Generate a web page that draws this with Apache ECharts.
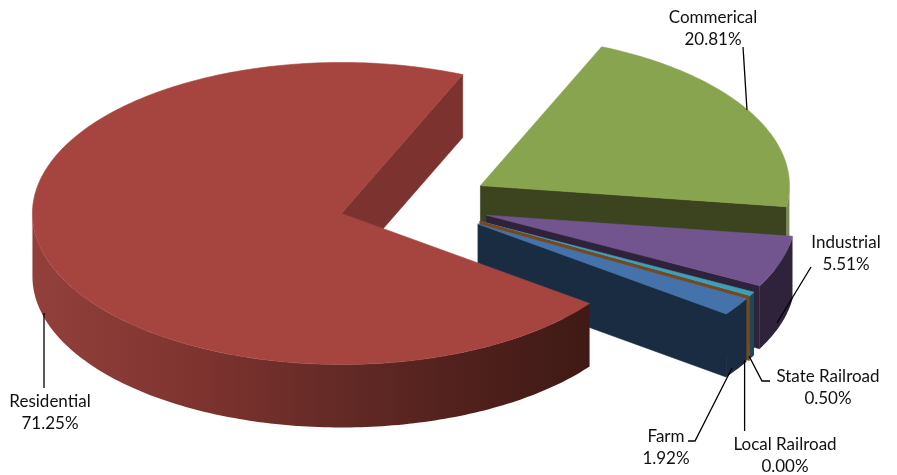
<!DOCTYPE html>
<html><head><meta charset="utf-8">
<style>html,body{margin:0;padding:0;background:#fff}#c{width:897px;height:475px}</style>
<script src="https://cdn.jsdelivr.net/npm/echarts@6/dist/echarts.min.js"></script>
</head><body><div id="c"></div>
<script>
// Data, clockwise from the first slice; Residential last so that it paints in front.
const categories = ['Commercial','Industrial','State Railroad','Local Railroad','Farm','Residential'];
const labelNames = ['Commerical','Industrial','State Railroad','Local Railroad','Farm','Residential'];
const values = [20.81, 5.51, 0.50, 0.00, 1.92, 71.25];

// Look
const topColors  = ['#89a44f','#72558f','#3e9fb8','#7a481e','#4473ac','#a64440'];
const faceColors = ['#3b431f','#2e233b','#1b4a55','#7a481e','#1a2c42','#7c322f'];
const wallFills = ['#7d8a5c','#2e233b','#1b4a55','#7a481e','#1a2c42',
  {type:'linear',x:0,y:0,x2:1,y2:0,colorStops:[
    {offset:0,color:'#93403b'},{offset:.3,color:'#7e332f'},{offset:.55,color:'#642a26'},
    {offset:.78,color:'#50201c'},{offset:1,color:'#3f1a15'}]}];

// Pie geometry
const pie = {cx:414.5, cy:203.8, rx:309, ry:151, depth:63, explode:.245, startAngle:23.1};
// Label anchors and leader lines
const labelPos = [[713,18],[846,243],[828,377],[785,445],[666,437],[50,402]];
const labelGap = 22;
const leaders = [
  [[743,47],[747,110]],
  [[811,267],[777,323]],
  [[749,356],[762,381],[770,381]],
  [[744.6,360],[744.6,431]],
  [[732,368],[695,441],[688,441]],
  [[44,313],[44,388]]
];
const labelFont = 'Lato, "Open Sans", sans-serif';

const total = values.reduce((a,b)=>a+b,0);
const rad = d => d*Math.PI/180;
function slice(i){
  let a = pie.startAngle;
  for(let k=0;k<i;k++) a += values[k]/total*360;
  return [a, a + values[i]/total*360];
}
function renderSlice(params, api){
  const i = params.dataIndex;
  if(params.dataIndexInside == null) return;
  const [a0,a1] = slice(i);
  const mid = (a0+a1)/2;
  const tx = pie.cx + pie.explode*pie.rx*Math.sin(rad(mid));
  const ty = pie.cy - pie.explode*pie.ry*Math.cos(rad(mid));
  const P = (a,dz=0)=>[tx+pie.rx*Math.sin(rad(a)), ty-pie.ry*Math.cos(rad(a))+dz];
  const arc = (s,e,dz=0)=>{
    const out=[]; const n=Math.max(1,Math.ceil(Math.abs(e-s)));
    for(let k=0;k<=n;k++) out.push(P(s+(e-s)*k/n,dz));
    return out;
  };
  const thin = api.value(0) === 0;
  const stroke = c => thin ? {stroke:c, lineWidth:1.8} : {stroke:c, lineWidth:.6};
  const kids = [];
  // cut face at the clockwise end
  const endNorm = ((a1%360)+360)%360;
  if(endNorm>0 && endNorm<180){
    kids.push({type:'polygon',shape:{points:[[tx,ty],P(a1),P(a1,pie.depth),[tx,ty+pie.depth]]},
      style:Object.assign({fill:faceColors[i]},stroke(faceColors[i]))});
  }
  // outer wall, front half only
  const vs = Math.max(a0,90), ve = Math.min(a1,270);
  if(ve>vs){
    kids.push({type:'polygon',shape:{points:arc(vs,ve).concat(arc(ve,vs,pie.depth))},
      style:{fill:wallFills[i]}});
  }
  // top face
  kids.push({type:'polygon',shape:{points:[[tx,ty]].concat(arc(a0,a1))},
    style:Object.assign({fill:topColors[i]},stroke(topColors[i]))});
  return {type:'group',children:kids};
}
function renderLabel(params, api){
  const i = params.dataIndex;
  const [x,y] = labelPos[i];
  const t = (text,yy)=>({type:'text',style:{text,x,y:yy,align:'center',verticalAlign:'middle',
    fontFamily:labelFont,fontSize:17,fill:'#111'}});
  return {type:'group',children:[
    {type:'polyline',shape:{points:leaders[i]},style:{stroke:'#000',lineWidth:1.3,fill:null}},
    t(labelNames[i],y),
    t(api.value(0).toFixed(2)+'%',y+labelGap)
  ]};
}
const chart = echarts.init(document.getElementById('c'),null,{renderer:'canvas',width:897,height:475});
const rows = values.map((v,i)=>({name:categories[i],value:v}));
chart.setOption({
  animation:false,
  backgroundColor:'#fff',
  series:[
    {type:'custom',coordinateSystem:'none',renderItem:renderSlice,data:rows,z:2,silent:true},
    {type:'custom',coordinateSystem:'none',renderItem:renderLabel,data:rows,z:3,silent:true}
  ]
});
</script></body></html>
